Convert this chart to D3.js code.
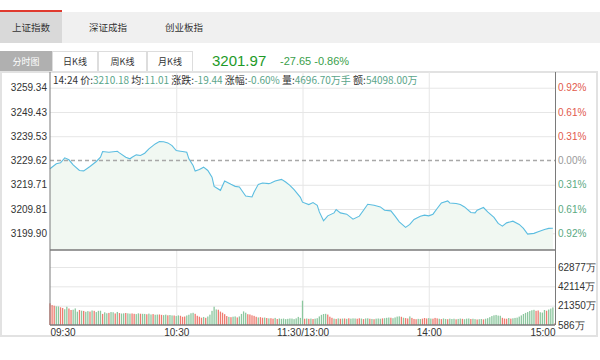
<!DOCTYPE html>
<html><head><meta charset="utf-8">
<script src="https://cdn.jsdelivr.net/npm/d3@7/dist/d3.min.js"></script>
<style>body{margin:0;background:#fff}svg{display:block}</style>
</head><body><svg id="c" width="600" height="360"></svg>
<script>
const tabs = ["上证指数","深证成指","创业板指"];
const periodBtns = ["分时图","日K线","周K线","月K线"];
const lastPrice = "3201.97", change = "-27.65", changePct = "-0.86%";
const prevClose = 3229.62;
const priceTicks = [3259.34,3249.43,3239.53,3229.62,3219.71,3209.81,3199.90];
const pctTicks = ["0.92%","0.61%","0.31%","0.00%","0.31%","0.61%","0.92%"];
const volTicks = [586,21350,42114,62877];
const timeTicks = [0,60,120,180,240];
const timeLabels = ["09:30","10:30","11:30/13:00","14:00","15:00"];
const infoParts = [["14:24 ",""],["价:","3210.18 "],["均:","11.01 "],["涨跌:","-19.44 "],["涨幅:","-0.60% "],["量:","4696.70万手 "],["额:","54098.00万"]];
const priceMins = [0,3,5,7,9,11,14,16,19,22,24,25,28,32,33,36,38,39,41,43,45,47,50,52,54,56,58,60,62,63,65,66,68,69,71,73,75,77,78,81,83,86,88,90,92,93,96,97,99,101,104,105,107,110,112,114,116,119,120,123,125,127,128,130,132,135,136,138,141,144,147,149,151,154,157,159,162,164,166,169,171,173,176,178,180,182,184,186,189,190,193,195,197,200,202,203,206,208,211,213,215,217,220,223,225,227,230,232,235,237,239];
const prices = [3226.25,3228.28,3228.69,3230.72,3229.90,3227.87,3225.56,3225.40,3227.18,3229.21,
3230.96,3233.27,3232.99,3233.40,3232.75,3230.96,3230.31,3230.96,3231.93,3231.65,
3232.58,3234.37,3236.40,3237.33,3237.25,3236.81,3235.71,3233.68,3233.40,3233.27,
3232.99,3230.31,3227.59,3225.28,3225.97,3226.90,3225.56,3222.84,3219.06,3217.44,
3221.22,3219.88,3219.06,3218.78,3216.34,3215.13,3214.72,3216.75,3219.88,3220.40,
3220.16,3220.40,3221.22,3221.91,3220.81,3219.47,3217.72,3214.60,3212.60,3211.63,
3212.45,3211.35,3208.63,3204.98,3207.01,3208.22,3209.60,3208.22,3207.70,3205.67,
3206.88,3209.32,3211.76,3211.35,3210.66,3209.32,3209.04,3206.88,3204.57,3202.30,
3203.51,3205.54,3206.88,3207.29,3207.01,3207.70,3210.01,3212.28,3213.10,3212.28,
3212.04,3211.63,3210.66,3208.39,3208.22,3209.32,3210.42,3208.63,3206.36,3203.92,
3202.82,3204.16,3204.85,3203.51,3201.89,3199.58,3199.86,3200.51,3201.48,3201.89,
3201.97];
const volumes = [23900,22000,21300,20600,20500,19600,18900,17500,20200,18300,
16700,17000,18400,14900,16700,16000,15700,14800,15500,15000,
16200,15800,14500,15800,15900,12500,14200,13200,13600,14500,
14300,13000,14600,13400,12900,13100,13500,13100,12800,13000,
12600,12300,13100,12700,12600,12500,12100,12800,11900,12300,
11600,11800,11900,11500,11200,11700,11000,11300,10900,10800,
10200,10900,10500,9400,9700,10800,11600,13200,13700,12600,
10500,9500,8400,9200,8300,9700,11700,15800,20200,17300,
17000,15000,13800,12200,10200,9300,9000,9500,9800,8700,
9800,12500,15200,13800,12200,11900,11000,10400,9400,8700,
9000,8400,8600,8100,7700,7900,7400,8200,7000,7600,
7200,7500,6900,7200,7600,7500,6900,7700,9300,8200,26700,
7300,7600,7200,7500,7000,7400,7900,9800,11500,12400,
12600,11800,9500,8300,7400,7100,7700,7300,7500,7600,
7200,7800,7400,7700,7600,7300,7800,7500,6900,7600,
7800,7300,7100,6800,7400,7600,7300,7700,7900,8300,
8600,8400,7900,8700,9600,9900,9400,8400,8000,7600,
9800,8200,7100,6800,7200,7000,7400,8100,7600,8000,
7500,7400,8200,7700,7300,6900,7600,7100,6800,7400,
7000,7300,6700,7100,7500,7200,6800,7400,7600,7000,
7300,6900,6500,6800,7000,6600,7300,7900,9000,10200,
11000,11400,10700,10500,8300,7500,7300,8100,7400,7800,
8200,8500,9600,10900,12400,13600,14500,15600,16400,16900,
15800,16200,14300,13900,16700,15900,17200,18200,19500,2500];
const volDirs = ("rrrggrrggr"+"rgggrgrggr"+"grgggrggrg"+"grgrggrggr"+"rggrggrggr"+"ggrrggrggr"+
"ggrrrggggr"+"rrrgrggggg"+"rrrrrgrggr"+"ggggrrrrrg"+"rrgrgrrgrg"+"ggggggggggg"+
"rgrgrggggg"+"grrrgrgrgr"+"grgggrrgrg"+"grgrgggrgg"+"grggggrgrr"+"grrrggrrrg"+
"grrrgrggrg"+"ggrggrgggr"+"ggrggrgggg"+"ggggrrrgrg"+"gggggggggg"+"rrgggrgggr").split("");

const svg = d3.select("#c");
const cjk = "'Noto Sans CJK SC', sans-serif";
const num = "'Liberation Sans', Arial, sans-serif";

// header tabs
svg.append("rect").attr("x",0).attr("y",12).attr("width",600).attr("height",31).attr("fill","#f0f0f0");
svg.append("rect").attr("x",0).attr("y",12).attr("width",62).attr("height",31).attr("fill","#d9d9d9");
svg.append("rect").attr("x",0).attr("y",10).attr("width",62).attr("height",2).attr("fill","#e03a2e");
const tabX = [31,108,184];
tabs.forEach((t,i)=>svg.append("text").attr("x",tabX[i]).attr("y",31).attr("text-anchor","middle")
  .attr("font-family",cjk).attr("font-size",9.5).attr("fill","#333").text(t));

// period buttons
const btnX = [0,52,98,147,193];
periodBtns.forEach((t,i)=>{
  svg.append("rect").attr("x",btnX[i]+0.5).attr("y",51.5).attr("width",btnX[i+1]-btnX[i]-1).attr("height",20)
    .attr("fill", i===0?"#b0b0b0":"#fff").attr("stroke", i===0?"#b0b0b0":"#ddd");
  svg.append("text").attr("x",(btnX[i]+btnX[i+1])/2).attr("y",65).attr("text-anchor","middle")
    .attr("font-family",cjk).attr("font-size",9).attr("fill", i===0?"#fff":"#333").text(t);
});
svg.append("text").attr("x",212).attr("y",66).attr("font-family",num).attr("font-size",15)
  .attr("fill","#1e9a28").text(lastPrice);
svg.append("text").attr("x",280).attr("y",65).attr("font-family",num).attr("font-size",11)
  .attr("fill","#3aa04a").text(change+" "+changePct);

// chart frame
const X0=50, X1=555, PT=71, PB=250, VT=250, VB=325;
svg.append("rect").attr("x",1).attr("y",72).attr("width",596).attr("height",264)
  .attr("fill","none").attr("stroke","#e2e2e2").attr("stroke-width",2);

const x = d3.scaleLinear().domain([0,240]).range([X0,X1]);
const half = 36.55;
const y = d3.scaleLinear().domain([prevClose-half, prevClose+half]).range([PB,PT]);
const yv = d3.scaleLinear().domain([586, 81150]).range([VB,VT]);

const gridC = "#e6e6e6";
svg.append("g").attr("transform",`translate(${X0},0)`)
  .call(d3.axisLeft(y).tickValues(priceTicks.filter(v=>v!==prevClose)).tickSize(-(X1-X0)).tickFormat(""))
  .call(g=>{g.select(".domain").remove(); g.selectAll("line").attr("stroke",gridC);});
svg.append("g").attr("transform",`translate(0,${VB})`)
  .call(d3.axisBottom(x).tickValues([60,120,180]).tickSize(-(VB-72)).tickFormat(""))
  .call(g=>{g.select(".domain").remove(); g.selectAll("line").attr("stroke",gridC);});
svg.append("g").attr("transform",`translate(${X0},0)`)
  .call(d3.axisLeft(yv).tickValues(volTicks.slice(1)).tickSize(-(X1-X0)).tickFormat(""))
  .call(g=>{g.select(".domain").remove(); g.selectAll("line").attr("stroke",gridC);});

// area + line
const pts = d3.zip(priceMins, prices);
svg.append("path").datum(pts).attr("fill","#f1f8f2")
  .attr("d", d3.area().x(d=>x(d[0])).y0(PB).y1(d=>y(d[1])));
svg.append("line").attr("x1",X0).attr("x2",X1).attr("y1",y(prevClose)).attr("y2",y(prevClose))
  .attr("stroke","#a8a8a8").attr("stroke-width",1.5).attr("stroke-dasharray","4,3");
svg.append("path").datum(pts).attr("fill","none").attr("stroke","#5bbde0").attr("stroke-width",1.1)
  .attr("d", d3.line().x(d=>x(d[0])).y(d=>y(d[1])));

// volume bars
svg.append("g").selectAll("rect").data(volumes).join("rect")
  .attr("x",(d,i)=>x(i)-0.65).attr("width",1.3)
  .attr("y",d=>yv(d)).attr("height",d=>VB-yv(d))
  .attr("fill",(d,i)=>volDirs[i]==="r"?"#ee7b70":"#8cc79e");

// axes lines
const axC="#7a7a7a";
svg.append("line").attr("x1",X0).attr("x2",X0).attr("y1",72).attr("y2",VB).attr("stroke",axC);
svg.append("line").attr("x1",X1+0.5).attr("x2",X1+0.5).attr("y1",72).attr("y2",VB).attr("stroke",axC);
svg.append("line").attr("x1",X0).attr("x2",X1).attr("y1",PB).attr("y2",PB).attr("stroke",axC).attr("stroke-width",1.5);
svg.append("line").attr("x1",X0).attr("x2",X1).attr("y1",VB).attr("y2",VB).attr("stroke",axC).attr("stroke-width",1.5);

// info row
const info = svg.append("text").attr("x",53).attr("y",84).attr("font-family",cjk).attr("font-size",10);
infoParts.forEach(p=>{ info.append("tspan").attr("fill","#333").text(p[0]); if(p[1]) info.append("tspan").attr("fill","#5aa58a").text(p[1]); });

// left price labels
svg.append("g").attr("transform",`translate(${X0-3},0)`)
  .call(d3.axisLeft(y).tickValues(priceTicks).tickSize(0).tickPadding(0).tickFormat(d3.format(".2f")))
  .call(g=>{g.select(".domain").remove(); g.selectAll("text").attr("font-family",num).attr("font-size",10).attr("fill","#333");});
const pctColor = i => i<3?"#e25a4c":(i===3?"#999":"#5aa982");
svg.append("g").attr("transform",`translate(${X1+3},0)`)
  .call(d3.axisRight(y).tickValues(priceTicks).tickSize(0).tickPadding(0).tickFormat((d,i)=>pctTicks[i]))
  .call(g=>{g.select(".domain").remove(); g.selectAll("text").attr("font-family",num).attr("font-size",10).attr("fill",(d,i)=>pctColor(i));});
svg.append("g").attr("transform",`translate(${X1+3},0)`)
  .call(d3.axisRight(yv).tickValues(volTicks).tickSize(0).tickPadding(0).tickFormat(d=>d+"万"))
  .call(g=>{g.select(".domain").remove(); g.selectAll("text").attr("font-family",num).attr("font-size",10).attr("fill","#333");});
svg.append("g").attr("transform",`translate(0,${VB+2})`)
  .call(d3.axisBottom(x).tickValues(timeTicks).tickSize(0).tickPadding(0).tickFormat((d,i)=>timeLabels[i]))
  .call(g=>{g.select(".domain").remove();
    g.selectAll("text").attr("font-family",num).attr("font-size",10).attr("fill","#333").attr("dy","0.9em")
      .attr("text-anchor",(d,i)=>i===0?"start":(i===timeTicks.length-1?"end":"middle"));});
</script></body></html>
